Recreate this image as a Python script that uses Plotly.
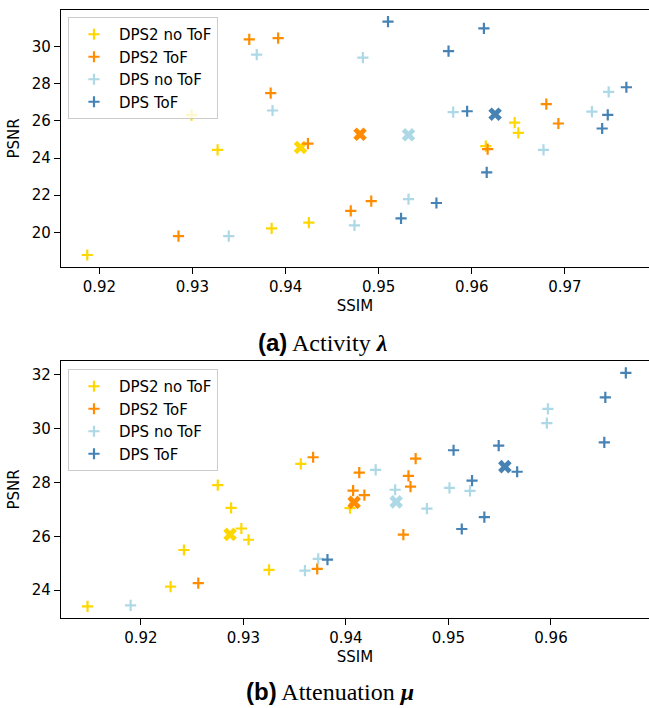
import plotly.graph_objects as go

# ---------- data: (a) Activity ----------
a_dps2_noTOF_x = [0.9187, 0.9299, 0.9327, 0.9385, 0.9425, 0.9646, 0.9650, 0.9615]
a_dps2_noTOF_y = [18.78, 26.31, 24.44, 20.21, 20.52, 25.91, 25.35, 24.64]
a_dps2_noTOF_mean = [0.9416, 24.57]

a_dps2_TOF_x = [0.9361, 0.9392, 0.9384, 0.9424, 0.9285, 0.9470, 0.9492, 0.9680, 0.9693, 0.9617]
a_dps2_TOF_y = [30.39, 30.46, 27.49, 24.78, 19.80, 21.16, 21.68, 26.90, 25.86, 24.48]
a_dps2_TOF_mean = [0.9480, 25.28]

a_dps_noTOF_x = [0.9369, 0.9386, 0.9339, 0.9474, 0.9483, 0.9580, 0.9729, 0.9747, 0.9677, 0.9532]
a_dps_noTOF_y = [29.57, 26.56, 19.80, 20.38, 29.41, 26.47, 26.50, 27.56, 24.44, 21.79]
a_dps_noTOF_mean = [0.9532, 25.25]

a_dps_TOF_x = [0.9510, 0.9613, 0.9575, 0.9595, 0.9766, 0.9746, 0.9740, 0.9616, 0.9562, 0.9524]
a_dps_TOF_y = [31.34, 30.98, 29.76, 26.52, 27.81, 26.32, 25.59, 23.23, 21.58, 20.75]
a_dps_TOF_mean = [0.9625, 26.36]

# ---------- data: (b) Attenuation ----------
b_dps2_noTOF_x = [0.9148, 0.9229, 0.9242, 0.9275, 0.9288, 0.9298, 0.9305, 0.9325, 0.9356, 0.9404]
b_dps2_noTOF_y = [23.39, 24.13, 25.49, 27.90, 27.06, 26.29, 25.87, 24.75, 28.69, 27.05]
b_dps2_noTOF_mean = [0.9287, 26.07]

b_dps2_TOF_x = [0.9256, 0.9368, 0.9372, 0.9407, 0.9413, 0.9418, 0.9468, 0.9461, 0.9463, 0.9456]
b_dps2_TOF_y = [24.26, 28.94, 24.79, 27.70, 28.37, 27.53, 28.89, 28.25, 27.85, 26.06]
b_dps2_TOF_mean = [0.9408, 27.26]

b_dps_noTOF_x = [0.9190, 0.9360, 0.9373, 0.9429, 0.9448, 0.9479, 0.9501, 0.9521, 0.9596, 0.9597]
b_dps_noTOF_y = [23.43, 24.72, 25.16, 28.47, 27.73, 27.03, 27.80, 27.69, 30.21, 30.74]
b_dps_noTOF_mean = [0.9449, 27.28]

b_dps_TOF_x = [0.9382, 0.9505, 0.9549, 0.9567, 0.9523, 0.9535, 0.9513, 0.9652, 0.9653, 0.9673]
b_dps_TOF_y = [25.13, 29.20, 29.37, 28.40, 28.07, 26.71, 26.27, 29.49, 31.17, 32.08]
b_dps_TOF_mean = [0.9555, 28.59]

series_names = ["DPS2 no ToF", "DPS2 ToF", "DPS no ToF", "DPS ToF"]
colors = ["#FFD700", "#FF8C00", "#ADD8E6", "#4682B4"]

top_x_ticks = [0.92, 0.93, 0.94, 0.95, 0.96, 0.97]
top_y_ticks = [20, 22, 24, 26, 28, 30]
bot_x_ticks = [0.92, 0.93, 0.94, 0.95, 0.96]
bot_y_ticks = [24, 26, 28, 30, 32]

top_sets = [
    (a_dps2_noTOF_x, a_dps2_noTOF_y, a_dps2_noTOF_mean),
    (a_dps2_TOF_x, a_dps2_TOF_y, a_dps2_TOF_mean),
    (a_dps_noTOF_x, a_dps_noTOF_y, a_dps_noTOF_mean),
    (a_dps_TOF_x, a_dps_TOF_y, a_dps_TOF_mean),
]
bot_sets = [
    (b_dps2_noTOF_x, b_dps2_noTOF_y, b_dps2_noTOF_mean),
    (b_dps2_TOF_x, b_dps2_TOF_y, b_dps2_TOF_mean),
    (b_dps_noTOF_x, b_dps_noTOF_y, b_dps_noTOF_mean),
    (b_dps_TOF_x, b_dps_TOF_y, b_dps_TOF_mean),
]

fig = go.Figure()

def add_sets(sets, xa, ya, legend):
    for name, col, (xs, ys, m) in zip(series_names, colors, sets):
        fig.add_trace(go.Scatter(
            x=xs, y=ys, mode="markers", name=name, xaxis=xa, yaxis=ya,
            legend=legend,
            marker=dict(symbol="cross-thin", size=8, color=col,
                        line=dict(width=2.2, color=col)),
        ))
        fig.add_trace(go.Scatter(
            x=[m[0]], y=[m[1]], mode="markers", showlegend=False,
            xaxis=xa, yaxis=ya, legend=legend,
            marker=dict(symbol="x", size=12, color=col, line=dict(width=0)),
        ))

add_sets(top_sets, "x", "y", "legend")
add_sets(bot_sets, "x2", "y2", "legend2")

FONT = "DejaVu Sans"
axis_common = dict(
    showline=True, linecolor="black", linewidth=1.3, mirror=True,
    ticks="outside", ticklen=6, tickwidth=1.3, tickcolor="black",
    showgrid=False, zeroline=False, automargin=False,
    tickfont=dict(family=FONT, size=15, color="black"),
)

legend_common = dict(
    bgcolor="rgba(255,255,255,0.8)", bordercolor="#cccccc", borderwidth=1,
    font=dict(family=FONT, size=15, color="black"),
    xanchor="left", yanchor="top", itemwidth=40,
)

fig.update_layout(
    width=649, height=708,
    margin=dict(l=61, r=0, t=10, b=90, autoexpand=False),
    plot_bgcolor="white", paper_bgcolor="white",
    xaxis=dict(domain=[0, 1], anchor="y", range=[0.91588, 0.97903],
               tickvals=top_x_ticks, ticktext=[f"{v:.2f}" for v in top_x_ticks],
               title=dict(text="SSIM", font=dict(family=FONT, size=15, color="black"), standoff=5),
               **axis_common),
    yaxis=dict(domain=[0.5778, 1], anchor="x", range=[18.15, 31.97],
               tickvals=top_y_ticks,
               title=dict(text="PSNR", font=dict(family=FONT, size=15, color="black"), standoff=8),
               **axis_common),
    xaxis2=dict(domain=[0, 1], anchor="y2", range=[0.91221, 0.96956],
                tickvals=bot_x_ticks, ticktext=[f"{v:.2f}" for v in bot_x_ticks],
                title=dict(text="SSIM", font=dict(family=FONT, size=15, color="black"), standoff=5),
                **axis_common),
    yaxis2=dict(domain=[0, 0.4227], anchor="x2", range=[22.96, 32.52],
                tickvals=bot_y_ticks,
                title=dict(text="PSNR", font=dict(family=FONT, size=15, color="black"), standoff=8),
                **axis_common),
    legend=dict(x=0.0119, y=0.9885, **legend_common),
    legend2=dict(x=0.0119, y=0.4095, **legend_common),
    annotations=[
        dict(xref="paper", yref="paper", x=0.4464, y=0.4539, xanchor="center", yanchor="middle",
             showarrow=False,
             text='<span style="font-family:Liberation Sans"><b>(a)</b></span> '
                  '<span style="font-family:Liberation Serif">Activity <b><i>λ</i></b></span>',
             font=dict(family="Liberation Serif", size=24, color="black")),
        dict(xref="paper", yref="paper", x=0.4575, y=-0.1217, xanchor="center", yanchor="middle",
             showarrow=False,
             text='<span style="font-family:Liberation Sans"><b>(b)</b></span> '
                  '<span style="font-family:Liberation Serif">Attenuation <b><i>μ</i></b></span>',
             font=dict(family="Liberation Serif", size=24, color="black")),
    ],
)

fig.write_html("out.html", config={"displayModeBar": False},
               post_script="document.body.style.margin='0px';")
